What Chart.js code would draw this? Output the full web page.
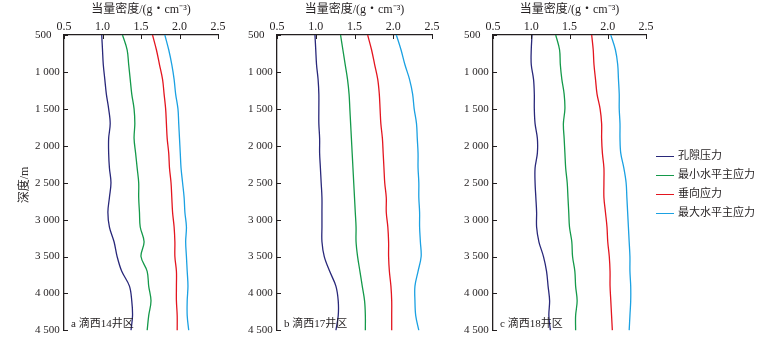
<!DOCTYPE html>
<html>
<head>
<meta charset="utf-8">
<script src="https://cdn.jsdelivr.net/npm/chart.js@4/dist/chart.umd.min.js"></script>
<style>
  body { margin: 0; background: #fff; }
  #wrap { position: relative; width: 770px; height: 340px; overflow: hidden; font-family: "Liberation Serif", "Noto Sans CJK SC", serif; color: #231f20; }
  canvas { position: absolute; top: 0; }
  .tag { position: absolute; font-size: 11px; top: 314px; white-space: nowrap; }
  #ytitle { position: absolute; left: 3px; top: 176px; width: 40px; text-align: center; font-size: 12px; transform: rotate(-90deg); }
  #legend { position: absolute; left: 656px; top: 146px; font-size: 11px; }
  #legend div { height: 19px; line-height: 19px; white-space: nowrap; }
  #legend span { display: inline-block; width: 18px; height: 0; border-top: 1.5px solid; vertical-align: middle; margin-right: 4px; }
</style>
</head>
<body>
<div id="wrap">
  <canvas id="ca" width="230" height="340" style="left:0"></canvas>
  <canvas id="cb" width="204" height="340" style="left:240px"></canvas>
  <canvas id="cc" width="203" height="340" style="left:455px"></canvas>
  <div id="ytitle">深度/m</div>
  <div class="tag" style="left:71px">a 滴西14井区</div>
  <div class="tag" style="left:284px">b 滴西17井区</div>
  <div class="tag" style="left:500px">c 滴西18井区</div>
  <div id="legend"></div>
</div>
<script>
// depth grid (m), shared by every curve
const depths = [500, 700, 900, 1100, 1300, 1500, 1700, 1900, 2100, 2300, 2500,
                2700, 2900, 3100, 3300, 3500, 3700, 3900, 4100, 4300, 4500];

const seriesNames = ['孔隙压力', '最小水平主应力', '垂向应力', '最大水平主应力'];
const seriesColors = ['#29287a', '#14994a', '#e3151f', '#1ba1e2'];
const wellNames = ['a 滴西14井区', 'b 滴西17井区', 'c 滴西18井区'];
const xTicks = [0.5, 1.0, 1.5, 2.0, 2.5];

// 滴西14井区 equivalent densities (g/cm3)
const poreA  = [0.99, 1.00, 1.01, 1.03, 1.05, 1.08, 1.10, 1.08, 1.08, 1.09, 1.11, 1.09, 1.07, 1.09, 1.15, 1.19, 1.25, 1.35, 1.38, 1.39, 1.37];
const shminA = [1.26, 1.32, 1.34, 1.36, 1.38, 1.41, 1.42, 1.41, 1.43, 1.45, 1.47, 1.47, 1.48, 1.49, 1.54, 1.50, 1.58, 1.60, 1.63, 1.60, 1.58];
const svA    = [1.65, 1.70, 1.74, 1.78, 1.80, 1.82, 1.83, 1.84, 1.86, 1.87, 1.89, 1.90, 1.91, 1.93, 1.94, 1.94, 1.96, 1.96, 1.96, 1.97, 1.97];
const shmaxA = [1.81, 1.86, 1.90, 1.93, 1.95, 1.98, 1.99, 2.00, 2.01, 2.02, 2.04, 2.06, 2.07, 2.09, 2.08, 2.09, 2.10, 2.11, 2.10, 2.10, 2.12];

// 滴西17井区
const poreB  = [0.99, 1.00, 1.01, 1.03, 1.04, 1.04, 1.04, 1.05, 1.05, 1.06, 1.07, 1.08, 1.08, 1.08, 1.08, 1.11, 1.18, 1.26, 1.29, 1.29, 1.26];
const shminB = [1.32, 1.35, 1.38, 1.41, 1.43, 1.44, 1.45, 1.46, 1.47, 1.48, 1.49, 1.50, 1.51, 1.52, 1.52, 1.54, 1.57, 1.60, 1.63, 1.64, 1.64];
const svB    = [1.67, 1.72, 1.76, 1.80, 1.82, 1.83, 1.84, 1.86, 1.87, 1.88, 1.89, 1.91, 1.91, 1.93, 1.94, 1.94, 1.95, 1.97, 1.98, 1.98, 1.98];
const shmaxB = [2.04, 2.10, 2.15, 2.21, 2.25, 2.27, 2.30, 2.31, 2.32, 2.32, 2.33, 2.33, 2.34, 2.34, 2.35, 2.36, 2.32, 2.28, 2.28, 2.29, 2.33];

// 滴西18井区
const poreC  = [1.01, 1.00, 1.00, 1.03, 1.04, 1.04, 1.05, 1.08, 1.08, 1.05, 1.05, 1.06, 1.07, 1.07, 1.10, 1.16, 1.20, 1.22, 1.24, 1.23, 1.25];
const shminC = [1.32, 1.37, 1.38, 1.40, 1.43, 1.44, 1.42, 1.43, 1.44, 1.45, 1.47, 1.48, 1.49, 1.50, 1.53, 1.54, 1.57, 1.58, 1.60, 1.58, 1.58];
const svC    = [1.79, 1.81, 1.82, 1.84, 1.86, 1.90, 1.92, 1.92, 1.93, 1.95, 1.95, 1.95, 1.97, 1.99, 2.00, 2.02, 2.03, 2.03, 2.04, 2.05, 2.06];
const shmaxC = [2.04, 2.10, 2.13, 2.14, 2.15, 2.15, 2.16, 2.16, 2.17, 2.21, 2.24, 2.25, 2.26, 2.27, 2.28, 2.29, 2.29, 2.30, 2.30, 2.29, 2.28];

const INK = '#231f20';
const FONT = "'Liberation Serif', 'Noto Sans CJK SC', serif";

// short tick marks pointing into the plot from the top and left axes
const innerTicks = {
  id: 'innerTicks',
  afterDraw(chart) {
    const { ctx, chartArea: a, scales } = chart;
    ctx.save();
    ctx.strokeStyle = INK;
    ctx.lineWidth = 1;
    ctx.beginPath();
    scales.x.ticks.forEach(t => {
      const px = Math.round(scales.x.getPixelForValue(t.value)) + 0.5;
      ctx.moveTo(px, a.top);
      ctx.lineTo(px, a.top + 4);
    });
    scales.y.ticks.forEach(t => {
      const py = Math.round(scales.y.getPixelForValue(t.value)) + 0.5;
      ctx.moveTo(a.left, py);
      ctx.lineTo(a.left + 4, py);
    });
    ctx.stroke();
    ctx.restore();
  }
};

function depthLabel(v) {
  return v >= 1000 ? Math.floor(v / 1000) + ' ' + String(v % 1000).padStart(3, '0') : String(v);
}

function makePanel(id, curves, padLeft) {
  new Chart(document.getElementById(id), {
    type: 'scatter',
    data: {
      datasets: curves.map((vals, i) => ({
        label: seriesNames[i],
        data: vals.map((v, k) => ({ x: v, y: depths[k] })),
        showLine: true,
        borderColor: seriesColors[i],
        borderWidth: 1.3,
        pointRadius: 0,
        tension: 0.35
      }))
    },
    options: {
      responsive: false,
      animation: false,
      devicePixelRatio: 1,
      layout: { padding: { left: padLeft, right: 12, top: 0, bottom: 9 } },
      plugins: { legend: { display: false }, tooltip: { enabled: false } },
      scales: {
        x: {
          type: 'linear',
          position: 'top',
          min: xTicks[0],
          max: xTicks[xTicks.length - 1],
          afterBuildTicks: s => { s.ticks = xTicks.map(v => ({ value: v })); },
          afterFit: s => { s.height = 35; },
          grid: { display: false, drawTicks: false },
          border: { display: true, color: INK, width: 1.3 },
          ticks: {
            padding: 1,
            color: INK,
            font: { family: FONT, size: 12 },
            callback: v => Number(v).toFixed(1)
          },
          title: {
            display: true,
            text: '当量密度/(g・cm⁻³)',
            color: INK,
            font: { family: FONT, size: 12 },
            padding: { top: 3, bottom: 0 }
          }
        },
        y: {
          type: 'linear',
          reverse: true,
          min: depths[0],
          max: depths[depths.length - 1],
          afterFit: s => { s.width = 29; },
          grid: { display: false, drawTicks: false },
          border: { display: true, color: INK, width: 1.3 },
          ticks: {
            stepSize: 500,
            crossAlign: 'far',
            color: INK,
            font: { family: FONT, size: 11 },
            callback: v => depthLabel(v)
          }
        }
      }
    },
    plugins: [innerTicks]
  });
}

makePanel('ca', [poreA, shminA, svA, shmaxA], 35);
makePanel('cb', [poreB, shminB, svB, shmaxB], 8);
makePanel('cc', [poreC, shminC, svC, shmaxC], 9);

const legend = document.getElementById('legend');
seriesNames.forEach((name, i) => {
  const row = document.createElement('div');
  row.innerHTML = '<span style="border-color:' + seriesColors[i] + '"></span>' + name;
  legend.appendChild(row);
});
</script>
</body>
</html>
